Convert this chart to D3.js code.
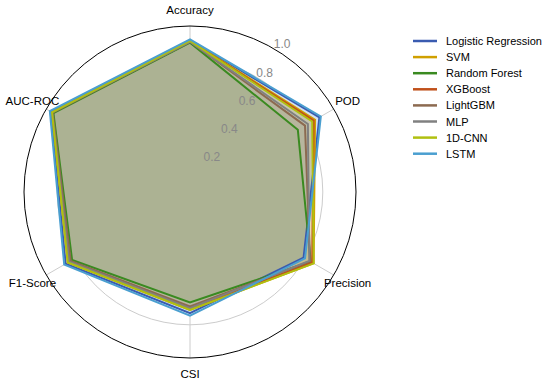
<!DOCTYPE html>
<html lang="en">
<head>
    <meta charset="UTF-8">
    <title>Radar chart of model metrics</title>
    <script src="https://d3js.org/d3.v7.min.js"></script>
    <style>
        body {
            margin: 0;
            background: white;
        }
        svg {
            font-family: "Liberation Sans", Arial, sans-serif;
        }
        .axis-label {
            font-size: 11.5px;
            fill: #000;
        }
        .tick-label {
            font-size: 12px;
            fill: #888888;
        }
        .legend text {
            font-size: 11px;
            fill: #000;
        }
    </style>
</head>
<body>
    <div id="chart"></div>
    <script>
        const width = 550;
        const height = 384;

        // metric names, clockwise from the top
        const metrics = ["Accuracy", "POD", "Precision", "CSI", "F1-Score", "AUC-ROC"];
        const models = ["Logistic Regression", "SVM", "Random Forest", "XGBoost", "LightGBM", "MLP", "1D-CNN", "LSTM"];
        const colors = ["#3a5bb0", "#d0a000", "#3a8a20", "#c0501a", "#8c6a50", "#808080", "#b0c010", "#4a9fd0"];
        const radialTicks = [0.2, 0.4, 0.6, 0.8, 1.0];

        // values, one array per model (same order as metrics)
        const logisticRegression = [0.915, 0.90, 0.79, 0.73, 0.865, 0.97];
        const svm                = [0.91, 0.87, 0.86, 0.71, 0.85, 0.96];
        const randomForest       = [0.90, 0.75, 0.84, 0.665, 0.82, 0.95];
        const xgboost            = [0.91, 0.86, 0.85, 0.70, 0.84, 0.96];
        const lightgbm           = [0.905, 0.80, 0.835, 0.69, 0.83, 0.955];
        const mlp                = [0.905, 0.82, 0.83, 0.70, 0.84, 0.96];
        const cnn1d              = [0.91, 0.85, 0.86, 0.71, 0.85, 0.96];
        const lstm               = [0.92, 0.91, 0.80, 0.745, 0.875, 0.975];
        const series = [logisticRegression, svm, randomForest, xgboost, lightgbm, mlp, cnn1d, lstm];

        const cx = 190, cy = 192, R = 166;

        const svg = d3.select("#chart").append("svg")
            .attr("width", width)
            .attr("height", height);

        const r = d3.scaleLinear().domain([0, 1]).range([0, R]);
        const angle = d3.scalePoint().domain(metrics).range([0, 2 * Math.PI * 5 / 6]);

        const g = svg.append("g").attr("transform", `translate(${cx},${cy})`);

        // grid circles
        g.selectAll("circle.grid")
            .data(radialTicks.slice(0, -1))
            .join("circle")
            .attr("class", "grid")
            .attr("r", d => r(d))
            .attr("fill", "none")
            .attr("stroke", "#cccccc")
            .attr("stroke-width", 1);

        // spokes
        g.selectAll("line.spoke")
            .data(metrics)
            .join("line")
            .attr("class", "spoke")
            .attr("x1", 0).attr("y1", 0)
            .attr("x2", d => r(1) * Math.sin(angle(d)))
            .attr("y2", d => -r(1) * Math.cos(angle(d)))
            .attr("stroke", "#cccccc")
            .attr("stroke-width", 1);

        // model polygons
        const radar = d3.lineRadial()
            .angle((d, i) => angle(metrics[i]))
            .radius(d => r(d))
            .curve(d3.curveLinearClosed);

        // the grid does not show through the fills in the original
        g.selectAll("path.under")
            .data(series)
            .join("path")
            .attr("class", "under")
            .attr("d", radar)
            .attr("fill", "white");

        g.selectAll("path.area")
            .data(series)
            .join("path")
            .attr("class", "area")
            .attr("d", radar)
            .attr("fill", (d, i) => colors[i])
            .attr("fill-opacity", 0.12)
            .attr("stroke", "none");

        g.selectAll("path.outline")
            .data(series)
            .join("path")
            .attr("class", "outline")
            .attr("d", radar)
            .attr("fill", "none")
            .attr("stroke", (d, i) => colors[i])
            .attr("stroke-width", 2)
            .attr("stroke-linejoin", "miter");

        // outer frame
        g.append("circle")
            .attr("r", r(1))
            .attr("fill", "none")
            .attr("stroke", "#000")
            .attr("stroke-width", 1);

        // radial tick labels
        const tickAngle = 32 * Math.PI / 180;
        g.selectAll("text.tick-label")
            .data(radialTicks)
            .join("text")
            .attr("class", "tick-label")
            .attr("x", d => (r(d) + 8) * Math.sin(tickAngle))
            .attr("y", d => -(r(d) + 8) * Math.cos(tickAngle))
            .attr("text-anchor", "middle")
            .attr("dominant-baseline", "central")
            .text(d => d.toFixed(1));

        // metric labels
        g.selectAll("text.axis-label")
            .data(metrics)
            .join("text")
            .attr("class", "axis-label")
            .attr("x", d => 182 * Math.sin(angle(d)))
            .attr("y", d => -182 * Math.cos(angle(d)))
            .attr("text-anchor", "middle")
            .attr("dominant-baseline", "central")
            .text(d => d);

        // legend
        const legend = svg.append("g")
            .attr("class", "legend")
            .attr("transform", "translate(413, 41)");

        const item = legend.selectAll("g")
            .data(models)
            .join("g")
            .attr("transform", (d, i) => `translate(0, ${i * 16.1})`);

        item.append("line")
            .attr("x1", 0).attr("x2", 24)
            .attr("stroke", (d, i) => colors[i])
            .attr("stroke-width", 2.5);

        item.append("text")
            .attr("x", 33)
            .attr("dominant-baseline", "central")
            .text(d => d);
    </script>
</body>
</html>
